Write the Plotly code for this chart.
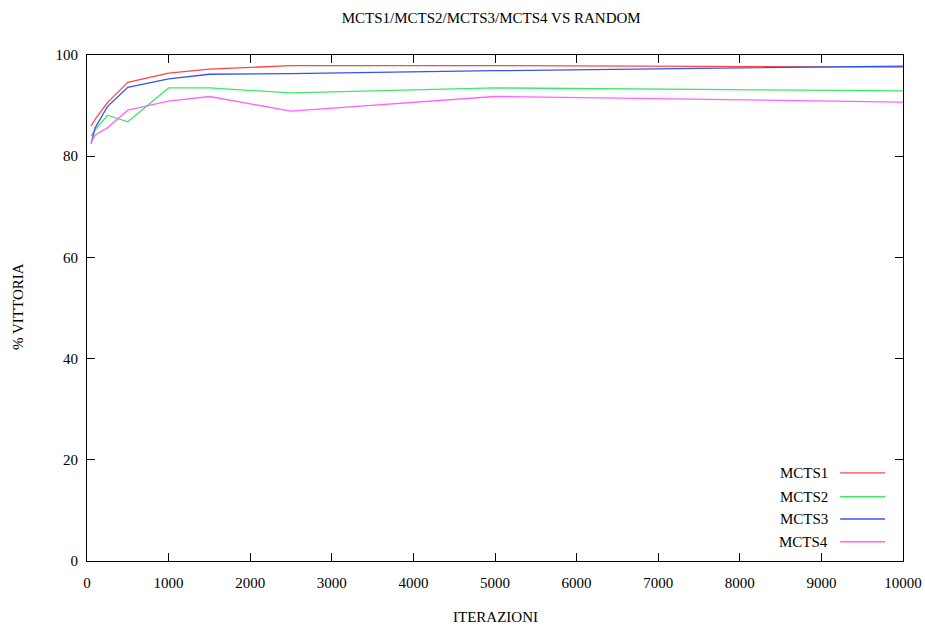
import plotly.graph_objects as go

iterations = [50, 100, 250, 500, 1000, 1500, 2500, 5000, 10000]
mcts1 = [86.0, 87.3, 90.6, 94.6, 96.4, 97.2, 97.9, 97.9, 97.6]
mcts2 = [84.0, 85.2, 88.1, 86.8, 93.5, 93.5, 92.5, 93.5, 92.9]
mcts3 = [82.5, 85.6, 89.8, 93.6, 95.3, 96.2, 96.3, 96.9, 97.8]
mcts4 = [82.7, 84.2, 85.6, 89.1, 90.9, 91.8, 88.9, 91.8, 90.7]

series_names = ["MCTS1", "MCTS2", "MCTS3", "MCTS4"]
series_values = [mcts1, mcts2, mcts3, mcts4]
colors = ["rgb(255,70,70)", "rgb(60,235,100)", "rgb(50,85,240)", "rgb(255,100,255)"]

x_ticks = list(range(0, 10001, 1000))
y_ticks = list(range(0, 101, 20))

FONT = "Liberation Serif, Times New Roman, serif"
FS = 15

fig = go.Figure()
for name, vals, col in zip(series_names, series_values, colors):
    fig.add_trace(go.Scatter(x=iterations, y=vals, mode="lines", name=name,
                             line=dict(color=col, width=1.3), showlegend=False))

# gnuplot-style legend: text, then line sample
leg_y = [0.174, 0.127, 0.083, 0.038]
for name, col, ly in zip(series_names, colors, leg_y):
    fig.add_annotation(x=0.91, y=ly, xref="paper", yref="paper", text=name,
                       showarrow=False, xanchor="right", yanchor="middle",
                       font=dict(family=FONT, size=FS, color="black"))
    fig.add_shape(type="line", xref="paper", yref="paper",
                  x0=0.923, x1=0.978, y0=ly, y1=ly, line=dict(color=col, width=1.3))

# axis titles
fig.add_annotation(x=0.5, y=-0.111, xref="paper", yref="paper", text="ITERAZIONI",
                   showarrow=False, xanchor="center", yanchor="middle",
                   font=dict(family=FONT, size=FS, color="black"))
fig.add_annotation(x=-0.0846, y=0.504, xref="paper", yref="paper", text="% VITTORIA",
                   showarrow=False, xanchor="center", yanchor="middle", textangle=-90,
                   font=dict(family=FONT, size=FS, color="black"))

axis_common = dict(showgrid=False, zeroline=False, showline=True, linecolor="black",
                   linewidth=1.2, mirror="ticks", ticks="inside", ticklen=8,
                   tickcolor="black", tickwidth=1, automargin=False,
                   tickfont=dict(family=FONT, size=FS, color="black"))

fig.update_layout(
    width=925, height=626,
    margin=dict(l=87, r=22, t=55, b=65),
    paper_bgcolor="white", plot_bgcolor="white",
    title=dict(text="MCTS1/MCTS2/MCTS3/MCTS4 VS RANDOM", x=0.531, xanchor="center",
               y=0.971, yanchor="middle", font=dict(family=FONT, size=FS, color="black")),
    xaxis=dict(range=[0, 10000], tickvals=x_ticks, ticktext=[str(v) for v in x_ticks],
               ticklabelstandoff=8, **axis_common),
    yaxis=dict(range=[0, 100], tickvals=y_ticks, ticktext=[str(v) for v in y_ticks],
               ticklabelstandoff=5, **axis_common),
)

fig.write_html("out.html")
